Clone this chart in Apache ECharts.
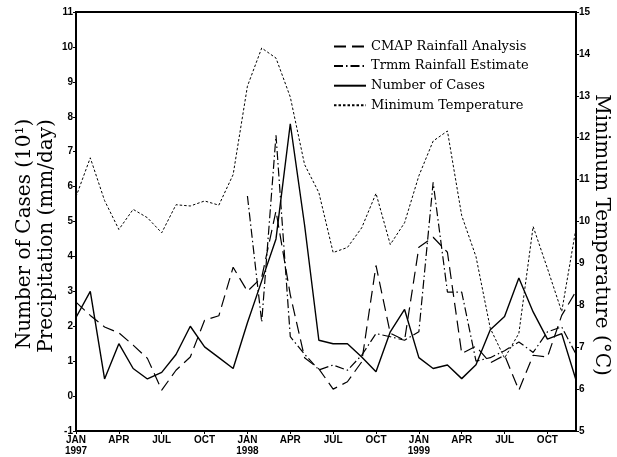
<!DOCTYPE html>
<html><head><meta charset="utf-8">
<script src="https://cdn.jsdelivr.net/npm/echarts@6/dist/echarts.min.js"></script>
<style>html,body{margin:0;padding:0;background:#fff}#c{width:617px;height:457px}</style>
</head><body><div id="c"></div>
<script>
const months = [
 '1997-01','1997-02','1997-03','1997-04','1997-05','1997-06','1997-07','1997-08','1997-09','1997-10','1997-11','1997-12',
 '1998-01','1998-02','1998-03','1998-04','1998-05','1998-06','1998-07','1998-08','1998-09','1998-10','1998-11','1998-12',
 '1999-01','1999-02','1999-03','1999-04','1999-05','1999-06','1999-07','1999-08','1999-09','1999-10','1999-11','1999-12'];
const monthNames = ['JAN','FEB','MAR','APR','MAY','JUN','JUL','AUG','SEP','OCT','NOV','DEC'];
const leftTicks = {min: -1, max: 11, interval: 1};
const rightTicks = {min: 5, max: 15, interval: 1};

const cmap = [2.69,2.31,1.98,1.81,1.46,1.08,0.17,0.74,1.12,2.17,2.3,3.69,
              3.0,3.4,5.3,2.9,1.1,0.78,0.2,0.41,0.98,3.74,1.8,1.6,
              4.26,4.55,4.12,1.22,1.43,0.95,1.17,0.17,1.17,1.12,2.31,3.0];
const trmm = [null,null,null,null,null,null,null,null,null,null,null,null,
              5.73,2.12,7.47,1.7,1.2,0.75,0.89,0.74,1.17,1.79,1.7,1.6,
              1.84,6.12,2.98,2.98,1.0,1.1,1.3,1.55,1.25,1.84,1.98,1.2];
const cases = [2.25,3.0,0.49,1.5,0.79,0.49,0.68,1.19,2.0,1.41,1.1,0.79,
               2.1,3.3,4.5,7.8,4.9,1.6,1.5,1.5,1.12,0.7,1.84,2.48,
               1.1,0.79,0.89,0.5,0.9,1.9,2.28,3.38,2.41,1.63,1.79,0.46];
const minTemp = [10.59,11.52,10.5,9.81,10.29,10.09,9.73,10.40,10.37,10.49,10.39,11.12,
                 13.23,14.14,13.9,12.97,11.36,10.69,9.26,9.38,9.85,10.67,9.45,9.97,
                 11.09,11.92,12.16,10.14,9.16,7.45,6.74,7.33,9.88,8.88,7.85,9.84];

const chart = echarts.init(document.getElementById('c'));
const tickFont = {color:'#000', fontFamily:'Liberation Sans', fontWeight:'bold', fontSize:10};
const axLine = {show:true, onZero:false, lineStyle:{color:'#000', width:2}};
function mk(name, data, dash, width, yIdx){
  return {name, type:'line', data, yAxisIndex:yIdx, symbol:'none', connectNulls:false,
    lineStyle:{color:'#000', width, type:dash}, itemStyle:{color:'#000'}, z: 3, silent:true};
}
chart.setOption({
  animation:false,
  grid:{left:76, right:41, top:12, bottom:24, show:true, borderColor:'#000', borderWidth:2},
  legend:{orient:'vertical', left:328, top:35, itemWidth:32, itemHeight:12, itemGap:6.6,
    itemStyle:{opacity:0},
    textStyle:{fontFamily:'DejaVu Serif', fontSize:13, color:'#000'},
    data:['CMAP Rainfall Analysis','Trmm Rainfall Estimate','Number of Cases','Minimum Temperature']},
  xAxis:{type:'category', data:months, boundaryGap:false,
    axisLine:axLine,
    axisTick:{show:true, length:3, interval:(i)=>i%3===0, lineStyle:{color:'#000', width:1}},
    axisLabel:Object.assign({}, tickFont, {margin:4, lineHeight:11, interval:(i)=>i%3===0,
      formatter:(v)=>{const p=v.split('-'); const m=+p[1]; return monthNames[m-1] + (m===1 ? '\n'+p[0] : '');}}),
    splitLine:{show:false}},
  yAxis:[
    {type:'value', min:leftTicks.min, max:leftTicks.max, interval:leftTicks.interval, position:'left',
     axisLine:axLine, axisTick:{show:true, length:3, lineStyle:{color:'#000'}},
     axisLabel:Object.assign({}, tickFont, {margin:3}), splitLine:{show:false}},
    {type:'value', min:rightTicks.min, max:rightTicks.max, interval:rightTicks.interval, position:'right',
     axisLine:axLine, axisTick:{show:true, length:3, lineStyle:{color:'#000'}},
     axisLabel:Object.assign({}, tickFont, {margin:3}), splitLine:{show:false}}
  ],
  series:[
    mk('CMAP Rainfall Analysis', cmap, [12,6], 1.2, 0),
    mk('Trmm Rainfall Estimate', trmm, [9,3,1.5,3], 1.2, 0),
    mk('Number of Cases', cases, 'solid', 1.4, 0),
    mk('Minimum Temperature', minTemp, [2.5,2], 1, 1)
  ],
  graphic:[
    {type:'text', x:25, y:234, rotation:Math.PI/2,
     style:{text:'Number of Cases (10\u00b9)', fontFamily:'DejaVu Serif', fontSize:20, fill:'#000',
       align:'center', verticalAlign:'middle', textAlign:'center', textVerticalAlign:'middle'}},
    {type:'text', x:47, y:236, rotation:Math.PI/2,
     style:{text:'Precipitation (mm/day)', fontFamily:'DejaVu Serif', fontSize:20, fill:'#000',
       align:'center', verticalAlign:'middle', textAlign:'center', textVerticalAlign:'middle'}},
    {type:'text', x:601, y:235, rotation:-Math.PI/2,
     style:{text:'Minimum Temperature (\u00b0C)', fontFamily:'DejaVu Serif', fontSize:20, fill:'#000',
       align:'center', verticalAlign:'middle', textAlign:'center', textVerticalAlign:'middle'}}
  ]
});
</script></body></html>
